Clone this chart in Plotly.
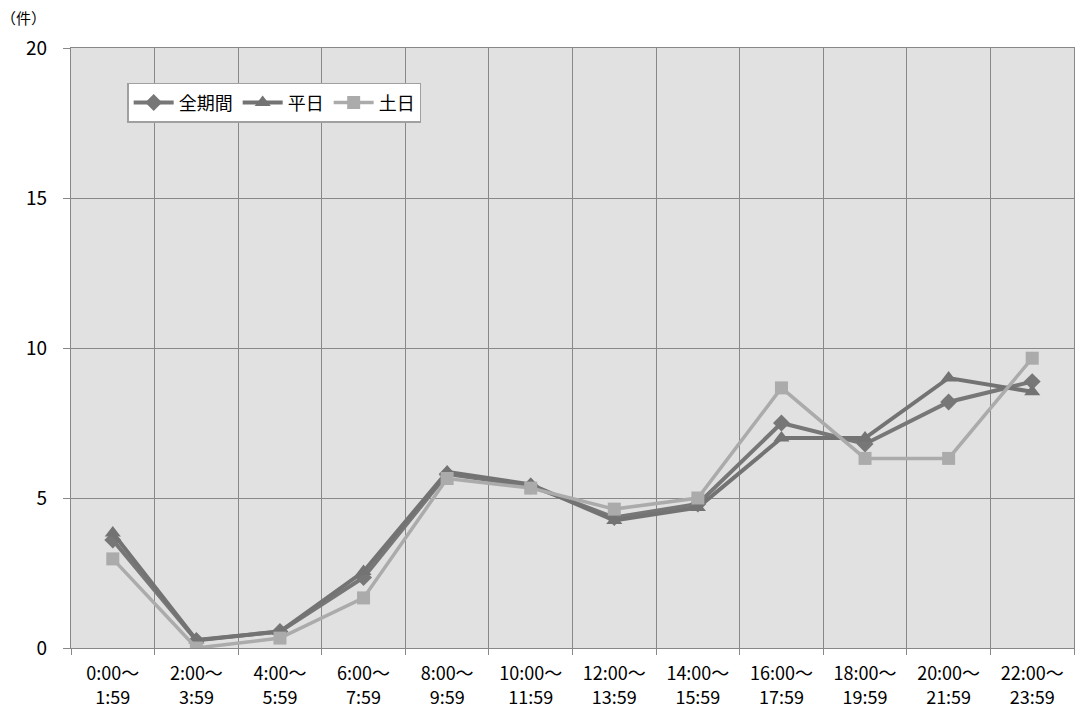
import plotly.graph_objects as go

line1 = ["0:00～", "2:00～", "4:00～", "6:00～", "8:00～", "10:00～",
         "12:00～", "14:00～", "16:00～", "18:00～", "20:00～", "22:00～"]
line2 = ["1:59", "3:59", "5:59", "7:59", "9:59", "11:59",
         "13:59", "15:59", "17:59", "19:59", "21:59", "23:59"]
all_period = [3.6, 0.25, 0.55, 2.35, 5.8, 5.4, 4.35, 4.8, 7.5, 6.8, 8.2, 8.88]
weekday = [3.83, 0.27, 0.55, 2.55, 5.87, 5.45, 4.25, 4.68, 7.0, 7.0, 9.0, 8.54]
weekend = [2.97, 0.0, 0.33, 1.67, 5.65, 5.33, 4.63, 5.0, 8.67, 6.32, 6.32, 9.66]

FONT = "Noto Sans CJK JP"
GRID = "#888888"
fig = go.Figure()
fig.add_trace(go.Scatter(x=line1, y=all_period, name="全期間", mode="lines+markers",
                         line=dict(color="#777777", width=4),
                         marker=dict(symbol="diamond", size=13, color="#777777")))
fig.add_trace(go.Scatter(x=line1, y=weekday, name="平日", mode="lines+markers",
                         line=dict(color="#737373", width=4),
                         marker=dict(symbol="triangle-up", size=14, color="#737373")))
fig.add_trace(go.Scatter(x=line1, y=weekend, name="土日", mode="lines+markers",
                         line=dict(color="#ababab", width=3.5),
                         marker=dict(symbol="square", size=13, color="#ababab")))

fig.update_layout(
    width=1076, height=711,
    margin=dict(l=71, r=2, t=48, b=63, autoexpand=False),
    paper_bgcolor="white", plot_bgcolor="#e1e1e1",
    font=dict(family=FONT, size=19, color="#000000"),
    legend=dict(orientation="h", x=0.056, y=0.942, xanchor="left", yanchor="top",
                bgcolor="white", bordercolor="#a0a0a0", borderwidth=1.5,
                font=dict(family=FONT, size=18), itemwidth=40, tracegroupgap=0),
    xaxis=dict(type="category", tickson="boundaries", range=[-0.5, 11.5],
               automargin=False,
               showgrid=True, gridcolor=GRID, gridwidth=1.3,
               ticks="outside", ticklen=6, tickcolor=GRID,
               showline=True, linecolor=GRID, linewidth=1.3, mirror=True,
               tickfont=dict(family=FONT, size=18), ticklabelstandoff=9),
    xaxis2=dict(overlaying="x", anchor="y", side="bottom", range=[-0.5, 11.5],
                tickvals=list(range(len(line2))), ticktext=line2,
                automargin=False, showgrid=False, showline=False, zeroline=False,
                ticks="", tickfont=dict(family=FONT, size=18), ticklabelstandoff=37),
    yaxis=dict(range=[0, 20], dtick=5, showgrid=True, gridcolor=GRID, gridwidth=1.3,
               automargin=False,
               ticks="outside", ticklen=7, tickcolor=GRID,
               showline=True, linecolor=GRID, linewidth=1.3, mirror=True,
               zeroline=False, tickfont=dict(family=FONT, size=19), ticklabelstandoff=12),
    annotations=[dict(text="（件）", xref="paper", yref="paper",
                      x=-0.047, y=1.05, xanchor="center", yanchor="middle",
                      showarrow=False, font=dict(family=FONT, size=15))],
)
# invisible helper trace so the second x axis is drawn
fig.add_trace(go.Scatter(x=[0], y=[None], xaxis="x2", showlegend=False, hoverinfo="skip"))

post = ("document.body.style.margin='0';document.body.style.overflow='hidden';"
        "var gd=document.getElementById('{plot_id}');"
        "Plotly.relayout(gd,{width:1076,height:711});")
fig.write_html("out.html", post_script=post, config={"displayModeBar": False})
